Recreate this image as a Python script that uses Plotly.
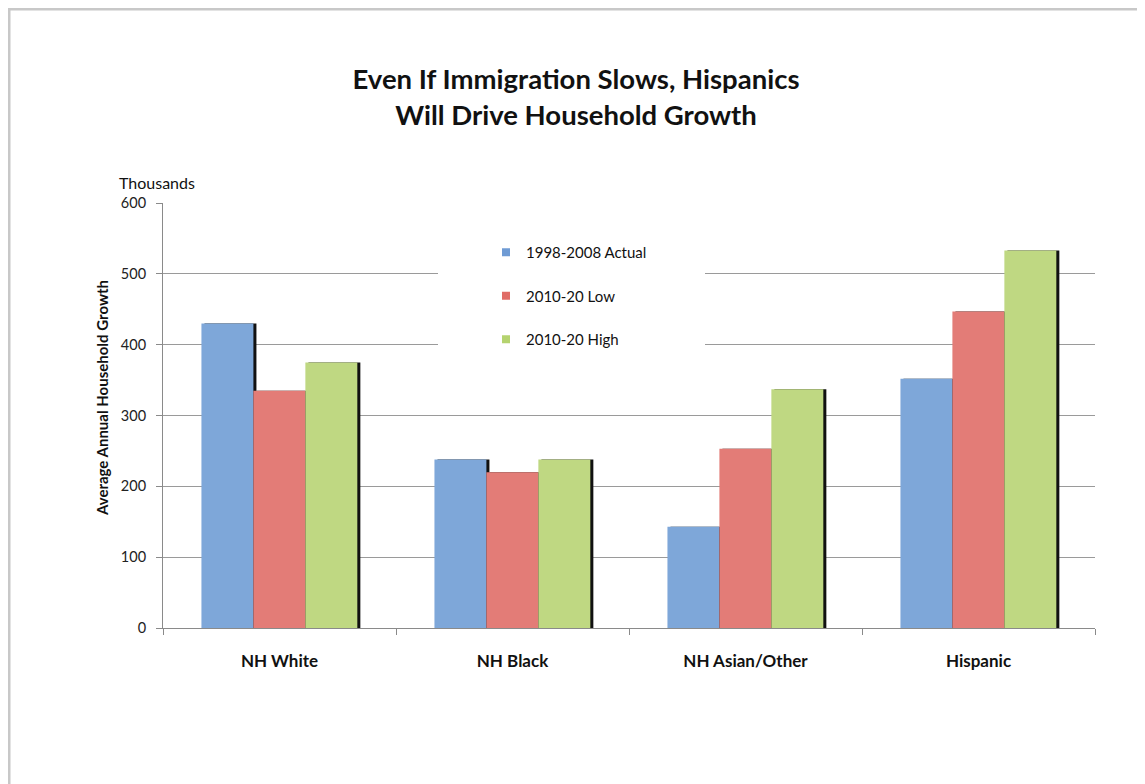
import plotly.graph_objects as go

categories = ["NH White", "NH Black", "NH Asian/Other", "Hispanic"]
series_names = ["1998-2008 Actual", "2010-20 Low", "2010-20 High"]
actual_1998_2008 = [430, 238, 143, 352]
low_2010_20 = [335, 220, 253, 447]
high_2010_20 = [375, 238, 337, 533]
y_ticks = [0, 100, 200, 300, 400, 500, 600]

series_values = [actual_1998_2008, low_2010_20, high_2010_20]
colors = ["#7EA7D9", "#E37C77", "#BFD882"]
legend_colors = ["#6F9BD4", "#E06C66", "#B5D36F"]

BAR_W = 0.223
offsets = [-0.335, -0.112, 0.111]
SHADOW_SHIFT = 0.013

fig = go.Figure()

# drop shadows (drawn first, behind the bars)
for vals, off in zip(series_values, offsets):
    fig.add_trace(go.Bar(
        x=categories, y=vals, offset=off + SHADOW_SHIFT, width=BAR_W,
        marker=dict(color="#111111", line=dict(width=0)),
        showlegend=False, hoverinfo="skip"))

for name, vals, off, c in zip(series_names, series_values, offsets, colors):
    fig.add_trace(go.Bar(
        x=categories, y=vals, offset=off, width=BAR_W, name=name,
        marker=dict(color=c, line=dict(width=0)),
        showlegend=False))

# legend entries with small square swatches
for i, (name, c) in enumerate(zip(series_names, legend_colors)):
    fig.add_trace(go.Scatter(
        x=[None], y=[None], mode="markers", name=name,
        marker=dict(symbol="square", size=8, color=c),
        legendgroup=f"g{i}", showlegend=True))

# page body has an 8px margin; target positions are in screenshot pixels
OFF = 8
W, H = 1145, 784
PL, PR, PT, PB = 163, 1095, 203, 628
PW, PH = PR - PL, PB - PT

def px_x(p):
    return (p - PL) / PW

def px_y(p):
    return (PB - p) / PH

fig.update_layout(
    width=W, height=H,
    margin=dict(l=PL - OFF, r=W - (PR - OFF), t=PT - OFF, b=H - (PB - OFF)),
    paper_bgcolor="white", plot_bgcolor="white",
    barmode="overlay",
    font=dict(family="Lato, 'Open Sans', sans-serif", color="#111111"),
    title=dict(
        text="Even If Immigration Slows, Hispanics<br>Will Drive Household Growth",
        x=(576 - OFF) / W, xanchor="center", xref="container",
        y=1 - (89 - OFF) / H, yanchor="middle", yref="container",
        font=dict(size=27.5, family="Lato, sans-serif", color="#111111", weight="bold")),
    xaxis=dict(
        type="category", categoryorder="array", categoryarray=categories,
        range=[-0.5, 3.5],
        showline=True, linecolor="#8a8a8a", linewidth=1,
        ticks="outside", tickson="boundaries", ticklen=6, tickcolor="#8a8a8a",
        ticklabelstandoff=18,
        showgrid=False,
        tickfont=dict(size=17, family="Lato, sans-serif", color="#111111", weight="bold")),
    yaxis=dict(
        range=[0, 600], tickvals=y_ticks,
        showline=True, linecolor="#8a8a8a", linewidth=1,
        ticks="outside", ticklen=6, tickcolor="#8a8a8a",
        ticklabelstandoff=7,
        showgrid=True, gridcolor="#9a9a9a", gridwidth=1,
        zeroline=False,
        tickfont=dict(size=14.5, color="#222222")),
    legend=dict(
        x=px_x(486), xanchor="left", y=px_y(236), yanchor="top",
        bgcolor="rgba(0,0,0,0)", borderwidth=0,
        tracegroupgap=21, traceorder="grouped",
        font=dict(size=15, color="#111111"),
        itemwidth=30),
    showlegend=True,
    shapes=[
        # white box behind the legend hiding gridlines
        dict(type="rect", xref="paper", yref="paper",
             x0=px_x(438), x1=px_x(705), y0=px_y(362), y1=px_y(236),
             fillcolor="white", line=dict(width=0), layer="above"),
        # outer grey frame
        dict(type="rect", xref="paper", yref="paper",
             x0=px_x(9), x1=px_x(1200), y0=px_y(840), y1=px_y(9),
             fillcolor="rgba(0,0,0,0)", line=dict(color="#c8c8c8", width=3),
             layer="below"),
    ],
    annotations=[
        dict(text="Thousands", xref="paper", yref="paper",
             x=px_x(117), xanchor="left", y=px_y(182), yanchor="middle",
             showarrow=False, font=dict(size=16, color="#111111")),
        dict(text="Average Annual Household Growth", xref="paper", yref="paper",
             x=px_x(102), xanchor="center", y=px_y(398), yanchor="middle",
             textangle=-90, showarrow=False,
             font=dict(size=15, color="#111111", weight="bold")),
    ],
)

fig.write_html("out.html")
